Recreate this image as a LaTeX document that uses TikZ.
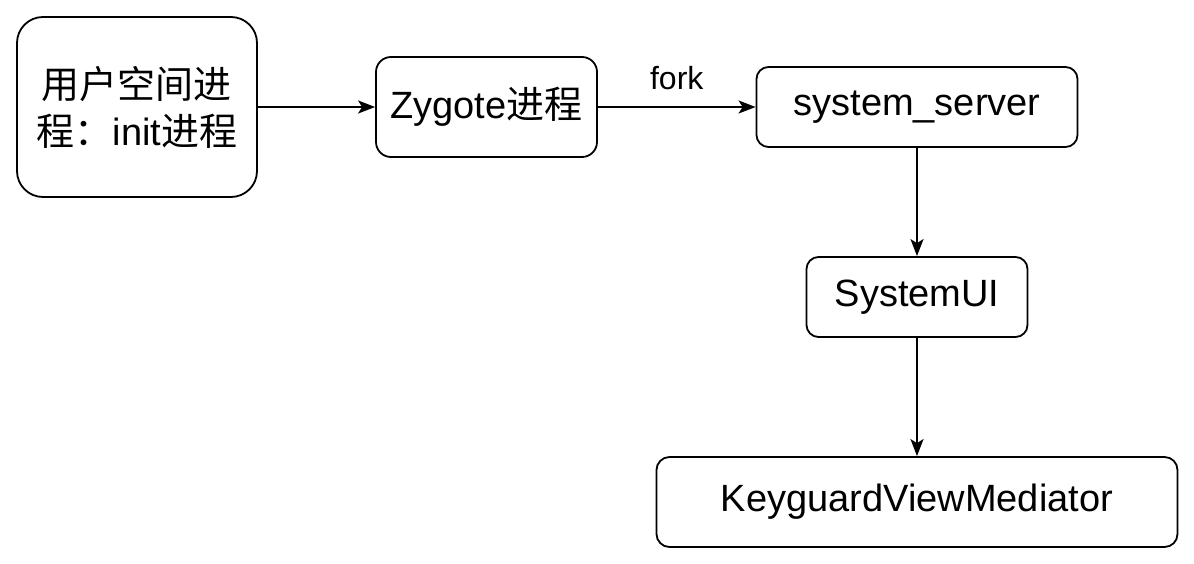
\documentclass[tikz,border=0pt]{standalone}
\usepackage{fontspec}
\setmainfont{Liberation Sans}
\newfontfamily\cjk{Noto Sans CJK SC}
\usetikzlibrary{arrows.meta,positioning}
\tikzstyle{proc} = [draw, rounded corners=12pt, line width=1.8pt, align=center, inner sep=0pt, font=\fontsize{38}{47}\selectfont]
\tikzstyle{arrow} = [line width=2pt,-{Stealth[length=17pt,width=13pt,inset=4pt]}]

\begin{document}
\begin{tikzpicture}[x=1pt,y=-1pt]
\useasboundingbox (0,0) rectangle (1194,564);

% Processes
\node[proc, rounded corners=26pt, minimum width=240pt, minimum height=180pt] (init) at (137,107) {{\cjk 用户空间进}\\{\cjk 程：}init{\cjk 进程}};
\node[proc, rounded corners=15pt, minimum width=221pt, minimum height=100pt] (zygote) at (486.5,107) {Zygote{\cjk 进程}};
\node[proc, minimum width=321pt, minimum height=80pt] (sysserver) at (917,107) {system\_server};
\node[proc, minimum width=221pt, minimum height=80pt] (systemui) at (917,297) {SystemUI};
\node[proc, rounded corners=13pt, minimum width=521pt, minimum height=90pt] (keyguard) at (917,502) {KeyguardViewMediator};

% Arrows
\draw[arrow] (init) -- (zygote);
\draw[arrow] (zygote) -- node[above=13pt, font=\fontsize{32}{36}\selectfont] (fork) {fork} (sysserver);
\draw[arrow] (sysserver) -- (systemui);
\draw[arrow] (systemui) -- (keyguard);
\end{tikzpicture}
\end{document}
